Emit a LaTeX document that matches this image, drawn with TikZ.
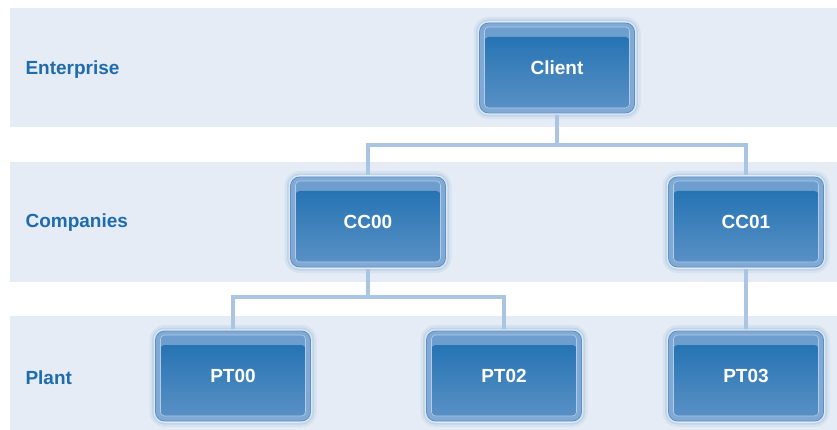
\documentclass[tikz,border=0pt]{standalone}
\usepackage{fontspec}
\setmainfont{Liberation Sans}
\usetikzlibrary{calc}
\definecolor{bandbg}{HTML}{E5ECF6}
\definecolor{conn}{HTML}{A9C5E2}
\definecolor{lbl}{HTML}{1E6BAD}
\definecolor{boxtop}{HTML}{2674B3}
\definecolor{boxbot}{HTML}{5990C5}
\definecolor{boxring}{HTML}{80AAD5}
\definecolor{boxgloss}{HTML}{6E9ECE}
\definecolor{boxedge}{HTML}{5E8FC4}
\tikzset{
  band/.style={fill=bandbg, draw=none},
  lvl/.style={anchor=west, text=lbl, font=\fontsize{19}{22}\selectfont\bfseries},
  connline/.style={draw=conn, line width=4pt},
  unitbox/.style={rectangle, rounded corners=9pt, minimum width=155pt, minimum height=90pt,
    fill=boxring, draw=boxedge, line width=0.8pt,
    text=white, font=\fontsize{19}{22}\selectfont\bfseries,
    preaction={draw=conn, draw opacity=0.25, line width=12pt},
    preaction={draw=conn, draw opacity=0.45, line width=7pt},
    preaction={draw=white!75!boxring, line width=3.5pt},
    path picture={
      \fill[boxgloss, rounded corners=4pt]
        ([shift={(5pt,-4pt)}]path picture bounding box.north west) rectangle
        ([shift={(-5pt,5pt)}]path picture bounding box.south east);
      \shade[top color=boxtop, bottom color=boxbot, rounded corners=4pt]
        ([shift={(5pt,-14pt)}]path picture bounding box.north west) rectangle
        ([shift={(-5pt,5pt)}]path picture bounding box.south east);
      \draw[white!40!boxring, line width=0.6pt, rounded corners=4pt]
        ([shift={(5pt,-4pt)}]path picture bounding box.north west) rectangle
        ([shift={(-5pt,5pt)}]path picture bounding box.south east);
    }},
}
\begin{document}
\begin{tikzpicture}[x=1pt,y=-1pt]
\useasboundingbox (0,0) rectangle (837,430);
\fill[white] (0,0) rectangle (837,430);
% bands
\path[band] (10,8) rectangle (837,127);
\path[band] (10,162) rectangle (837,282);
\path[band] (10,316) rectangle (837,430);
% level labels
\node[lvl] (lEnt) at (22,70) {Enterprise};
\node[lvl] (lComp) at (22,223) {Companies};
\node[lvl] (lPlant) at (22,378) {Plant};
% junctions
\coordinate (j1) at (557,145);
\coordinate (j2) at (368,297);
% centres
\coordinate (cT) at (557,68);
\coordinate (c0) at (368,222);
\coordinate (c1) at (746,222);
\coordinate (p0) at (233,376);
\coordinate (p2) at (504,376);
\coordinate (p3) at (746,376);
% connectors (drawn first, boxes on top)
\draw[connline] (cT) -- (j1);
\draw[connline] (c0) |- (j1) -| (c1);
\draw[connline] (c0) -- (j2);
\draw[connline] (p0) |- (j2) -| (p2);
\draw[connline] (c1) -- (p3);
% boxes
\node[unitbox] (client) at (cT) {Client};
\node[unitbox] (cc00) at (c0) {CC00};
\node[unitbox] (cc01) at (c1) {CC01};
\node[unitbox] (pt00) at (p0) {PT00};
\node[unitbox] (pt02) at (p2) {PT02};
\node[unitbox] (pt03) at (p3) {PT03};
\end{tikzpicture}
\end{document}
